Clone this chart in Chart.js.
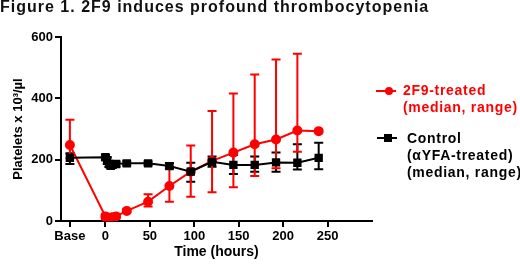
<!DOCTYPE html>
<html>
<head>
<meta charset="utf-8">
<script src="https://cdn.jsdelivr.net/npm/chart.js@4.4.0/dist/chart.umd.min.js"></script>
<style>
  body { margin: 0; background: #fff; font-family: "Liberation Sans", Arial, sans-serif; }
  #wrap { position: relative; width: 520px; height: 264px; overflow: hidden; }
  #chart { position: absolute; left: 0; top: 0; }
  .title { position: absolute; left: 0; top: -2px; font-weight: bold; font-size: 16px; letter-spacing: 1px; color: #111; white-space: nowrap; }
  .leg { position: absolute; font-weight: bold; font-size: 14px; letter-spacing: 0.7px; line-height: 17px; white-space: nowrap; }
  .seg { position: absolute; height: 2px; }
  .dot { position: absolute; width: 8px; height: 8px; border-radius: 50%; background: #f00; }
  .sq { position: absolute; width: 8px; height: 8px; background: #000; }
</style>
</head>
<body>
<div id="wrap">
  <canvas id="chart" width="520" height="264"></canvas>
  <div class="title">Figure 1. 2F9 induces profound thrombocytopenia</div>

  <div class="seg" style="left:376px;top:90px;width:20px;background:#f00"></div>
  <div class="dot" style="left:385px;top:87px"></div>
  <div class="leg" style="left:403px;top:82px;color:#f00">2F9-treated<br>(median, range)</div>

  <div class="seg" style="left:377px;top:137px;width:20px;background:#000"></div>
  <div class="sq" style="left:384px;top:134px"></div>
  <div class="leg" style="left:407px;top:130px;color:#000">Control<br>(&alpha;YFA-treated)<br>(median, range)</div>
</div>
<script>
// time points in hours, -40 stands for the baseline ("Base") sample
const hours = [-40, 0, 2, 4, 6, 8, 12, 24, 48, 72, 96, 120, 144, 168, 192, 216, 240];
const x_ticks = [-40, 0, 50, 100, 150, 200, 250];
const y_ticks = [0, 200, 400, 600];

// 2F9-treated, median and range
const f9_median = [248, 15, 9, 7, 9, 12, 15, 33, 63, 114, 161, 196, 223, 250, 266, 295, 293];
const f9_low    = [205, 5, 3, 2, 4, 6, 8, 28, 47, 63, 79, 94, 110, 147, 172, 226, null];
const f9_high   = [330, 24, 16, 14, 16, 19, 21, 38, 87, 177, 246, 359, 416, 478, 527, 545, null];

// control (aYFA-treated), median and range
const ctrl_median = [206, 208, 198, 186, 180, 183, 186, 188, 188, 179, 161, 193, 183, 183, 191, 190, 206];
const ctrl_low    = [186, 200, 186, 176, 172, 175, 178, 181, 182, 171, 128, 177, 153, 161, 161, 168, 169];
const ctrl_high   = [221, 215, 208, 195, 190, 192, 193, 195, 194, 189, 190, 210, 215, 210, 223, 250, 255];

function pts(ys) {
  return hours.map((h, i) => ({ x: h, y: ys[i] }));
}

// draws the range whiskers through the chart scales
const rangeBars = {
  id: 'rangeBars',
  beforeDatasetsDraw(chart) {
    const ctx = chart.ctx;
    const xs = chart.scales.x, ys = chart.scales.y;
    chart.data.datasets.forEach(ds => {
      ctx.save();
      ctx.strokeStyle = ds.borderColor;
      ctx.lineWidth = 2;
      hours.forEach((h, i) => {
        if (ds.low[i] == null) return;
        const px = xs.getPixelForValue(h);
        const lo = ys.getPixelForValue(ds.low[i]);
        const hi = ys.getPixelForValue(ds.high[i]);
        ctx.beginPath();
        ctx.moveTo(px, lo); ctx.lineTo(px, hi);
        ctx.moveTo(px - 4.5, lo); ctx.lineTo(px + 4.5, lo);
        ctx.moveTo(px - 4.5, hi); ctx.lineTo(px + 4.5, hi);
        ctx.stroke();
      });
      ctx.restore();
    });
  }
};

const tickFont = { family: 'Liberation Sans', weight: 'bold', size: 13 };

new Chart(document.getElementById('chart'), {
  type: 'line',
  data: {
    datasets: [
      {
        label: 'Control (αYFA-treated) (median, range)',
        data: pts(ctrl_median),
        low: ctrl_low, high: ctrl_high,
        borderColor: '#000', backgroundColor: '#000',
        borderWidth: 2, pointStyle: 'rect', pointRadius: 4.5,
      },
      {
        label: '2F9-treated (median, range)',
        data: pts(f9_median),
        low: f9_low, high: f9_high,
        borderColor: '#f00', backgroundColor: '#f00',
        borderWidth: 2, pointStyle: 'circle', pointRadius: 4,
      },
    ],
  },
  options: {
    responsive: false,
    animation: false,
    layout: { padding: { top: 37, right: 148, left: 0, bottom: 0 } },
    plugins: { legend: { display: false }, tooltip: { enabled: false } },
    scales: {
      x: {
        type: 'linear', min: -50, max: 300,
        afterBuildTicks: s => { s.ticks = x_ticks.map(v => ({ value: v })); },
        afterFit: s => { s.height = 43; },
        ticks: { color: '#000', font: tickFont, padding: 2, maxRotation: 0,
                 callback: v => v === -40 ? 'Base' : v },
        grid: { drawOnChartArea: false, color: '#000', lineWidth: 2, tickLength: 6 },
        border: { color: '#000', width: 2 },
        title: { display: true, text: 'Time (hours)', color: '#000',
                 font: { family: 'Liberation Sans', weight: 'bold', size: 14 }, padding: { top: 0, bottom: 3 } },
      },
      y: {
        min: 0, max: 600,
        afterBuildTicks: s => { s.ticks = y_ticks.map(v => ({ value: v })); },
        afterFit: s => { s.width = 61; },
        ticks: { color: '#000', font: tickFont, padding: 2 },
        grid: { drawOnChartArea: false, color: '#000', lineWidth: 2, tickLength: 6 },
        border: { color: '#000', width: 2 },
        title: { display: true, text: 'Platelets x 10³/µl', color: '#000', font: tickFont, padding: { top: 11, bottom: 0 } },
      },
    },
  },
  plugins: [rangeBars],
});
</script>
</body>
</html>
